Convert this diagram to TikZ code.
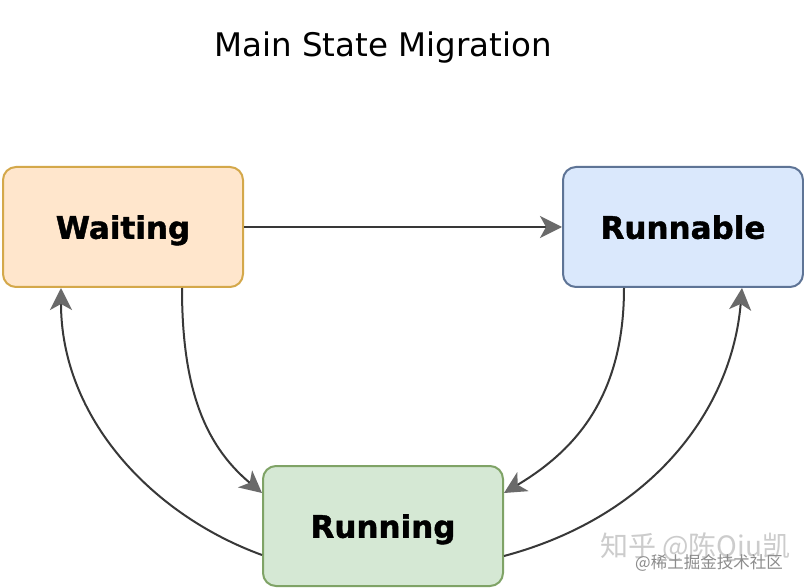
\documentclass[tikz,border=0pt]{standalone}
\usepackage{fontspec}
\setmainfont{DejaVu Sans}
\newfontfamily\heavyfont[BoldFeatures={FakeBold=1.3}]{DejaVu Sans}
\newfontfamily\cjkfont{Noto Sans CJK SC}
\usetikzlibrary{arrows.meta}
\definecolor{wfill}{HTML}{FFE6CC}
\definecolor{wdraw}{HTML}{D4A84A}
\definecolor{bfill}{HTML}{DAE8FC}
\definecolor{bdraw}{HTML}{5E7496}
\definecolor{gfill}{HTML}{D5E8D4}
\definecolor{gdraw}{HTML}{7FA366}
\definecolor{linec}{HTML}{383838}
\definecolor{tipc}{HTML}{6A6A6A}
\begin{document}
\begin{tikzpicture}[x=1pt,y=1pt,
  statebox/.style={minimum width=240pt, minimum height=120pt, rounded corners=13pt,
    line width=2pt, inner sep=0pt, text depth=0pt, font=\heavyfont\bfseries\fontsize{31}{31}\selectfont},
  conn/.style={draw=linec, line width=2pt,
    -{Stealth[length=22pt,width=22pt,inset=6pt,color=tipc,fill=tipc]}},
  wmark/.style={inner sep=0pt, anchor=base west}]
\useasboundingbox (0,0) rectangle (804,-588);
\fill[white] (0,0) rectangle (804,-588);
\node[anchor=base, font=\fontsize{32.5}{32.5}\selectfont, inner sep=0pt] (title) at (383,-57) {Main State Migration};
\node[statebox, fill=wfill, draw=wdraw] (W) at (123,-227) {Waiting};
\node[statebox, fill=bfill, draw=bdraw] (R) at (683,-227) {Runnable};
\node[statebox, fill=gfill, draw=gdraw] (G) at (383,-526) {Running};
\draw[conn] (W.east) -- (R.west);
\draw[conn] ([xshift=59pt]W.south) .. controls +(0,-95) and +(-60,50) .. ([yshift=33pt]G.west);
\draw[conn] ([yshift=-29pt]G.west) .. controls +(-110,40) and +(0,-130) .. ([xshift=-62pt]W.south);
\draw[conn] ([xshift=-59pt]R.south) .. controls +(0,-110) and +(70,42) .. ([yshift=33pt]G.east);
\draw[conn] ([yshift=-30pt]G.east) .. controls +(150,40) and +(-10,-120) .. ([xshift=59pt]R.south);
\node[wmark, text=black!20, font=\cjkfont\fontsize{28}{28}\selectfont] (wm1) at (600,-556) {知乎 @陈Qiu凯};
\node[wmark, text=black!45, font=\cjkfont\fontsize{16.5}{16.5}\selectfont] (wm2) at (635,-568) {@稀土掘金技术社区};
\end{tikzpicture}
\end{document}
